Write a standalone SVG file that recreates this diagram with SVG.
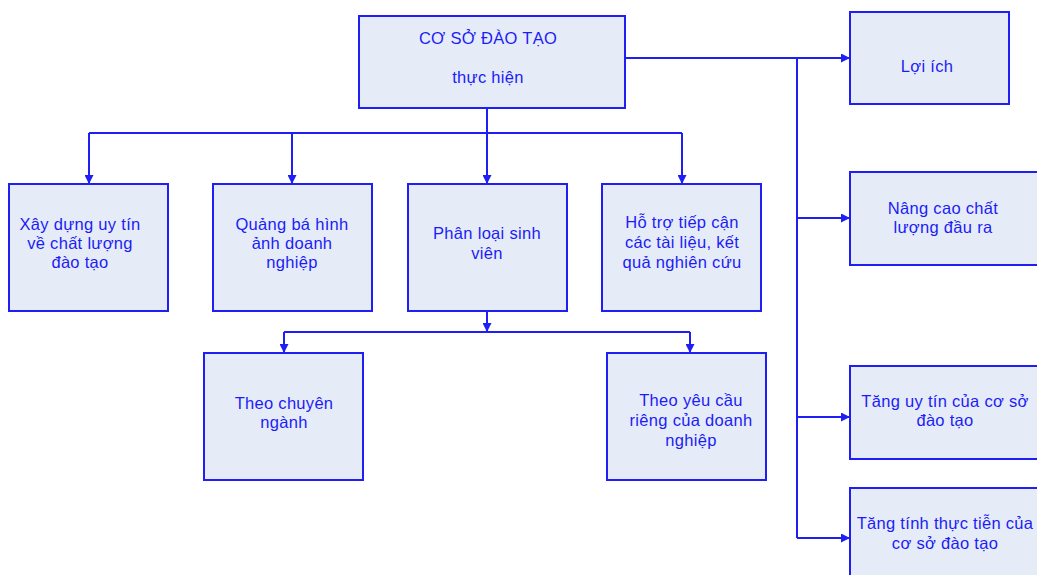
<svg xmlns="http://www.w3.org/2000/svg" width="1037" height="575" viewBox="0 0 1037 575">
<style>
.box{fill:#e6ecf7;stroke:#1e1ef5;stroke-width:2}
.t{font-family:"Liberation Sans",Arial,sans-serif;font-size:16.5px;fill:#1c1cf8;text-anchor:middle;letter-spacing:0.3px}
.c{fill:none;stroke:#1e1ef5;stroke-width:2}
</style>
<defs>
<marker id="ah" viewBox="0 0 10 10" refX="10" refY="5" markerWidth="10" markerHeight="9" markerUnits="userSpaceOnUse" orient="auto">
<path d="M0,0 L10,5 L0,10 z" fill="#1e1ef5"/>
</marker>
</defs>
<rect width="1037" height="575" fill="#ffffff"/>
<g id="connectors">
<path class="c" d="M487,108 V133"/>
<path class="c" d="M89,133 H682"/>
<path class="c" d="M89,133 V184" marker-end="url(#ah)"/>
<path class="c" d="M292,133 V184" marker-end="url(#ah)"/>
<path class="c" d="M487,133 V184" marker-end="url(#ah)"/>
<path class="c" d="M682,133 V184" marker-end="url(#ah)"/>
<path class="c" d="M487,311 V332" marker-end="url(#ah)"/>
<path class="c" d="M284,332 H690"/>
<path class="c" d="M284,332 V353" marker-end="url(#ah)"/>
<path class="c" d="M690,332 V353" marker-end="url(#ah)"/>
<path class="c" d="M625,58 H850" marker-end="url(#ah)"/>
<path class="c" d="M797,58 V538"/>
<path class="c" d="M797,218 H850" marker-end="url(#ah)"/>
<path class="c" d="M797,417 H850" marker-end="url(#ah)"/>
<path class="c" d="M797,538 H850" marker-end="url(#ah)"/>
</g>
<g id="n-coso">
<rect class="box" x="359" y="16" width="266" height="92"/>
<text class="t" x="488" y="44">CƠ SỞ ĐÀO TẠO</text>
<text class="t" x="488" y="83">thực hiện</text>
</g>
<g id="n-xaydung">
<rect class="box" x="9" y="184" width="159" height="127"/>
<text class="t" x="80" y="230">Xây dựng uy tín</text>
<text class="t" x="80" y="249">về chất lượng</text>
<text class="t" x="80" y="268">đào tạo</text>
</g>
<g id="n-quangba">
<rect class="box" x="213" y="184" width="159" height="127"/>
<text class="t" x="292" y="230">Quảng bá hình</text>
<text class="t" x="292" y="249">ảnh doanh</text>
<text class="t" x="292" y="268">nghiệp</text>
</g>
<g id="n-phanloai">
<rect class="box" x="408" y="184" width="159" height="127"/>
<text class="t" x="487" y="239">Phân loại sinh</text>
<text class="t" x="487" y="259">viên</text>
</g>
<g id="n-hotro">
<rect class="box" x="602" y="184" width="159" height="127"/>
<text class="t" x="682" y="228">Hỗ trợ tiếp cận</text>
<text class="t" x="682" y="248">các tài liệu, kết</text>
<text class="t" x="682" y="268">quả nghiên cứu</text>
</g>
<g id="n-chuyennganh">
<rect class="box" x="204" y="353" width="159" height="127"/>
<text class="t" x="284" y="409">Theo chuyên</text>
<text class="t" x="284" y="428">ngành</text>
</g>
<g id="n-yeucau">
<rect class="box" x="607" y="353" width="159" height="127"/>
<text class="t" x="691" y="406">Theo yêu cầu</text>
<text class="t" x="691" y="426">riêng của doanh</text>
<text class="t" x="691" y="446">nghiệp</text>
</g>
<g id="n-loiich">
<rect class="box" x="850" y="12" width="159" height="92"/>
<text class="t" x="927" y="72">Lợi ích</text>
</g>
<g id="n-nangcao">
<rect class="box" x="850" y="172" width="200" height="93"/>
<text class="t" x="943" y="214">Nâng cao chất</text>
<text class="t" x="943" y="233">lượng đầu ra</text>
</g>
<g id="n-tanguytin">
<rect class="box" x="850" y="366" width="200" height="93"/>
<text class="t" x="945" y="407">Tăng uy tín của cơ sở</text>
<text class="t" x="945" y="426">đào tạo</text>
</g>
<g id="n-tangtinh">
<rect class="box" x="850" y="488" width="200" height="100"/>
<text class="t" x="945" y="529">Tăng tính thực tiễn của</text>
<text class="t" x="945" y="549">cơ sở đào tạo</text>
</g>
</svg>
